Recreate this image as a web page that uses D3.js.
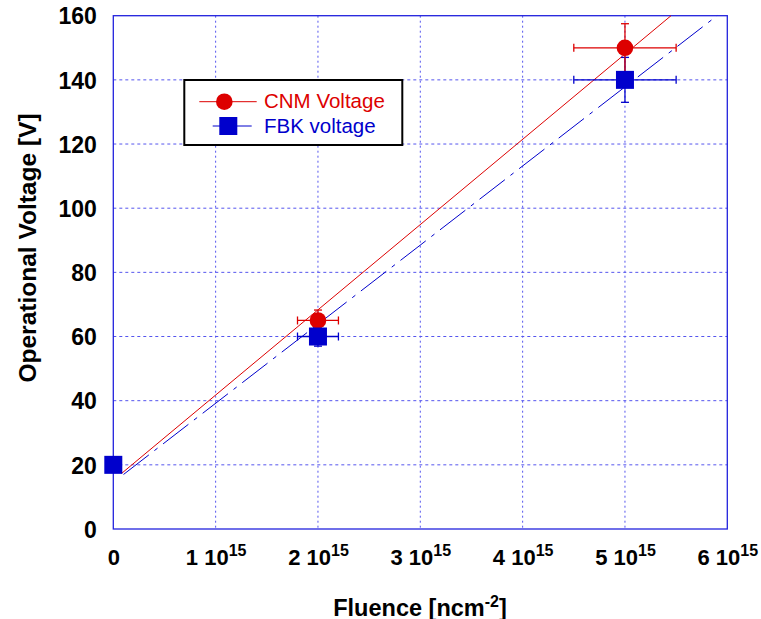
<!DOCTYPE html>
<html><head><meta charset="utf-8">
<script src="https://cdn.jsdelivr.net/npm/d3@7"></script>
<style>body{margin:0;background:#fff}svg{display:block}text{font-family:"Liberation Sans",Arial,sans-serif}</style>
</head><body><svg id="c" width="761" height="619"></svg>
<script>
const xTicks = [0, 1, 2, 3, 4, 5, 6];           // in units of 1e15
const yTicks = [0, 20, 40, 60, 80, 100, 120, 140, 160];
const cnmX = [0, 2, 5];
const cnmY = [20, 65, 150];
const cnmXErr = [0, 0.2, 0.5];
const cnmYErr = [0, 3.25, 7.5];
const fbkX = [0, 2, 5];
const fbkY = [20, 60, 140];
const fbkXErr = [0, 0.2, 0.5];
const fbkYErr = [0, 3, 7];
const cnmFit = [[0.08, 17.3], [5.45, 160]];
const fbkFit = [[0.1, 17.0], [5.9, 160]];

const svg = d3.select("#c");
const L = 113.3, R = 727.3, T = 15.7, B = 529;
const x = d3.scaleLinear().domain([0, 6]).range([L, R]);
const y = d3.scaleLinear().domain([0, 160]).range([B, T]);
const red = "#dd0000", blue = "#0000cc", grid = "#5555ee";

// grid
const g = svg.append("g");
g.selectAll(".gx").data(xTicks.slice(1, -1)).enter().append("line")
  .attr("x1", d => x(d)).attr("x2", d => x(d)).attr("y1", T).attr("y2", B)
  .attr("stroke", grid).attr("stroke-width", 1).attr("stroke-dasharray", "2,3");
g.selectAll(".gy").data(yTicks.slice(1, -1)).enter().append("line")
  .attr("x1", L).attr("x2", R).attr("y1", d => y(d)).attr("y2", d => y(d))
  .attr("stroke", grid).attr("stroke-width", 1).attr("stroke-dasharray", "3,3");

// axes frame
svg.append("rect").attr("x", L).attr("y", T).attr("width", R - L).attr("height", B - T)
  .attr("fill", "none").attr("stroke", "#2222dd").attr("stroke-width", 1.3);

// axis tick labels via d3 axes
const xAxis = svg.append("g").attr("transform", `translate(0,${B})`)
  .call(d3.axisBottom(x).tickValues(xTicks).tickSize(0).tickFormat(() => ""));
xAxis.select(".domain").remove();
xAxis.selectAll(".tick").each(function(d) {
  const t = d3.select(this).append("text").attr("y", 35.5).attr("fill", "#000")
    .attr("text-anchor", "middle").style("font-size", "22px").style("font-weight", "bold");
  if (d === 0) { t.text("0"); }
  else {
    t.append("tspan").text(d + " 10");
    t.append("tspan").text("15").attr("dy", -9).style("font-size", "16px");
  }
});
const yAxis = svg.append("g").attr("transform", `translate(${L},0)`)
  .call(d3.axisLeft(y).tickValues(yTicks).tickSize(0).tickPadding(16.5));
yAxis.select(".domain").remove();
yAxis.selectAll("text").attr("fill", "#000").style("font-size", "23px").style("font-weight", "bold")
  .attr("dy", "0.36em");

// axis titles
const xt = svg.append("text").attr("x", 420).attr("y", 615.5).attr("text-anchor", "middle")
  .style("font-size", "23.5px").style("font-weight", "bold");
xt.append("tspan").text("Fluence [ncm");
xt.append("tspan").text("-2").attr("dy", -9).style("font-size", "16px");
xt.append("tspan").text("]").attr("dy", 9);
svg.append("text").attr("transform", `translate(36,248) rotate(-90)`)
  .attr("text-anchor", "middle").style("font-size", "24.5px").style("font-weight", "bold")
  .text("Operational Voltage [V]");

// fit lines
const line = d3.line().x(d => x(d[0])).y(d => y(d[1]));
svg.append("path").attr("d", line(fbkFit)).attr("fill", "none").attr("stroke", blue)
  .attr("stroke-width", 1).attr("stroke-dasharray", "32,7,4,7");
svg.append("path").attr("d", line(cnmFit)).attr("fill", "none").attr("stroke", red)
  .attr("stroke-width", 1);

// error bars
function errBars(xs, ys, xe, ye, col) {
  const eg = svg.append("g").attr("stroke", col).attr("stroke-width", 1.3);
  xs.forEach((xv, i) => {
    const cx = x(xv), cy = y(ys[i]);
    if (xe[i] > 0) {
      const x1 = x(xv - xe[i]), x2 = x(xv + xe[i]);
      eg.append("line").attr("x1", x1).attr("x2", x2).attr("y1", cy).attr("y2", cy);
      eg.append("line").attr("x1", x1).attr("x2", x1).attr("y1", cy - 4).attr("y2", cy + 4);
      eg.append("line").attr("x1", x2).attr("x2", x2).attr("y1", cy - 4).attr("y2", cy + 4);
    }
    if (ye[i] > 0) {
      const y1 = y(ys[i] - ye[i]), y2 = y(ys[i] + ye[i]);
      eg.append("line").attr("x1", cx).attr("x2", cx).attr("y1", y1).attr("y2", y2);
      eg.append("line").attr("x1", cx - 4).attr("x2", cx + 4).attr("y1", y1).attr("y2", y1);
      eg.append("line").attr("x1", cx - 4).attr("x2", cx + 4).attr("y1", y2).attr("y2", y2);
    }
  });
}
errBars(fbkX, fbkY, fbkXErr, fbkYErr, blue);
errBars(cnmX, cnmY, cnmXErr, cnmYErr, red);

// markers
svg.selectAll(".cnm").data(cnmX).enter().append("circle")
  .attr("cx", d => x(d)).attr("cy", (d, i) => y(cnmY[i])).attr("r", 8.3).attr("fill", red);
svg.selectAll(".fbk").data(fbkX).enter().append("rect")
  .attr("x", d => x(d) - 9).attr("y", (d, i) => y(fbkY[i]) - 9).attr("width", 18).attr("height", 18)
  .attr("fill", blue);

// legend
const lg = svg.append("g");
lg.append("rect").attr("x", 184.3).attr("y", 80).attr("width", 218).attr("height", 65)
  .attr("fill", "#fff").attr("stroke", "#000").attr("stroke-width", 2);
lg.append("line").attr("x1", 199.3).attr("x2", 256.7).attr("y1", 101.7).attr("y2", 101.7).attr("stroke", red);
lg.append("circle").attr("cx", 224.3).attr("cy", 101.7).attr("r", 8.3).attr("fill", red);
lg.append("text").attr("x", 264).attr("y", 108.3).attr("fill", red).style("font-size", "20.5px").text("CNM Voltage");
lg.append("line").attr("x1", 212.7).attr("x2", 251.7).attr("y1", 126).attr("y2", 126).attr("stroke", blue);
lg.append("rect").attr("x", 219.3).attr("y", 117).attr("width", 18).attr("height", 18).attr("fill", blue);
lg.append("text").attr("x", 264).attr("y", 132.5).attr("fill", blue).style("font-size", "20.5px").text("FBK voltage");
</script></body></html>
